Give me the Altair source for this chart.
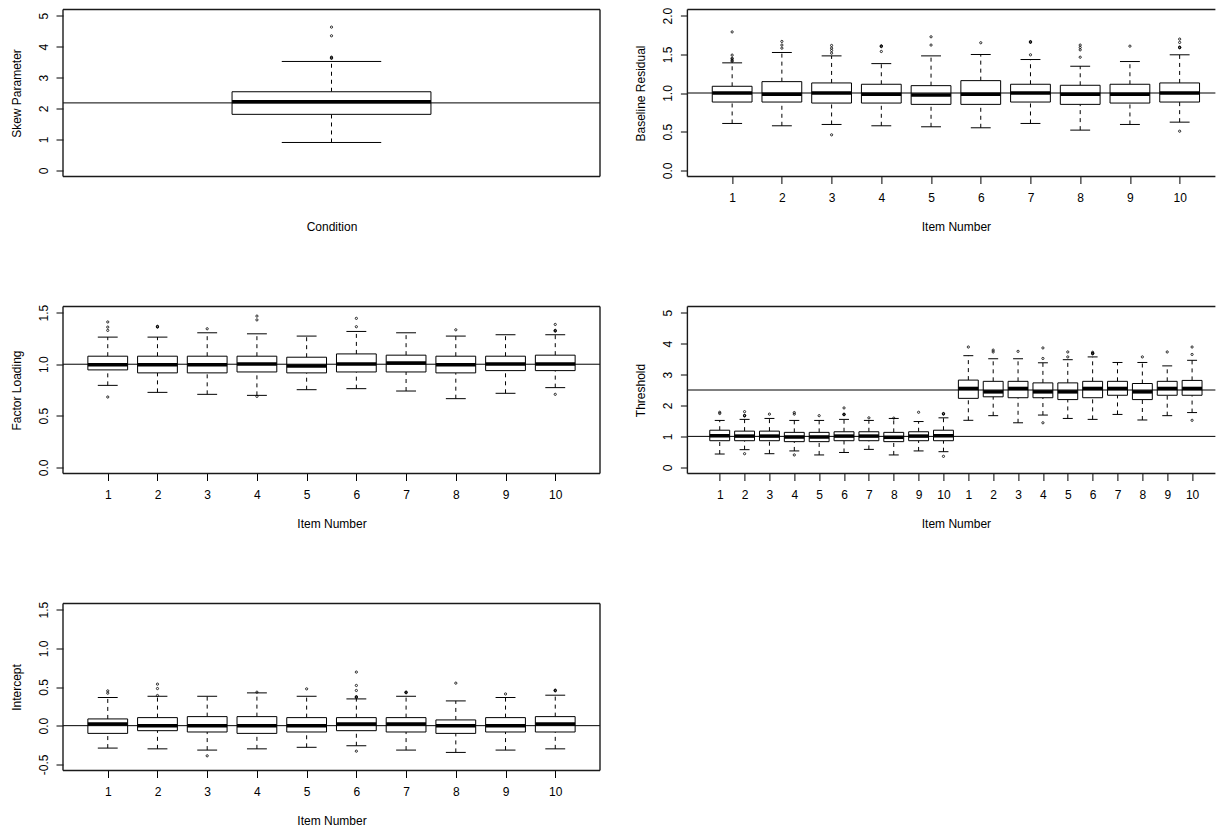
import altair as alt
import pandas as pd

FONT = "Liberation Sans"

# ---------------- data ----------------
# Panel 1: Skew Parameter (one box)
skew_pos = [1]
skew_lo = [0.90]
skew_q1 = [1.81]
skew_med = [2.22]
skew_q3 = [2.54]
skew_hi = [3.52]
skew_out = [[3.62, 3.64, 3.66, 4.35, 4.63]]
skew_ref = [2.18]

# Panel 2: Baseline Residual
items = list(range(1, 11))
base_lo = [0.606, 0.576, 0.593, 0.576, 0.563, 0.550, 0.606, 0.520, 0.593, 0.623]
base_q1 = [0.883, 0.883, 0.870, 0.870, 0.853, 0.853, 0.883, 0.853, 0.870, 0.883]
base_med = [1.000, 0.983, 1.000, 0.983, 0.974, 0.983, 1.000, 0.983, 0.983, 1.000]
base_q3 = [1.087, 1.147, 1.130, 1.113, 1.095, 1.160, 1.113, 1.100, 1.113, 1.130]
base_hi = [1.390, 1.524, 1.480, 1.380, 1.480, 1.498, 1.433, 1.346, 1.407, 1.494]
base_out = [
    [1.41, 1.42, 1.44, 1.45, 1.49, 1.79],
    [1.58, 1.62, 1.667],
    [0.459, 1.515, 1.55, 1.58, 1.615],
    [1.537, 1.60, 1.606, 1.61],
    [1.62, 1.727],
    [1.65],
    [1.494, 1.655, 1.66, 1.665],
    [1.463, 1.558, 1.589, 1.62],
    [1.606],
    [0.506, 1.585, 1.589, 1.594, 1.654, 1.697],
]
base_ref = [1.0]

# Panel 3: Factor Loading
load_lo = [0.795, 0.727, 0.708, 0.698, 0.753, 0.763, 0.740, 0.666, 0.718, 0.773]
load_q1 = [0.945, 0.916, 0.916, 0.925, 0.916, 0.925, 0.925, 0.916, 0.938, 0.938]
load_med = [0.994, 0.994, 0.994, 1.003, 0.984, 1.003, 1.013, 0.994, 1.003, 1.003]
load_q3 = [1.078, 1.078, 1.078, 1.078, 1.068, 1.100, 1.088, 1.078, 1.078, 1.088]
load_hi = [1.263, 1.263, 1.305, 1.295, 1.273, 1.318, 1.305, 1.273, 1.286, 1.286]
load_out = [
    [0.682, 1.328, 1.36, 1.41],
    [1.36, 1.364, 1.368],
    [1.344],
    [0.688, 1.43, 1.467],
    [],
    [1.364, 1.445],
    [],
    [1.334],
    [],
    [0.708, 1.321, 1.325, 1.329, 1.386],
]
load_ref = [1.0]

# Panel 4: Threshold (20 boxes, labelled 1..10 twice)
thr_pos = list(range(1, 21))
thr_labels = [1, 2, 3, 4, 5, 6, 7, 8, 9, 10, 1, 2, 3, 4, 5, 6, 7, 8, 9, 10]
thr_lo = [0.43, 0.57, 0.44, 0.53, 0.40, 0.48, 0.58, 0.40, 0.53, 0.505,
          1.52, 1.67, 1.44, 1.69, 1.58, 1.55, 1.71, 1.53, 1.67, 1.77]
thr_q1 = [0.86, 0.86, 0.86, 0.83, 0.83, 0.86, 0.86, 0.83, 0.86, 0.86,
          2.23, 2.28, 2.25, 2.25, 2.19, 2.25, 2.33, 2.19, 2.33, 2.33]
thr_med = [1.02, 1.01, 1.01, 0.98, 0.98, 1.01, 1.01, 0.97, 1.01, 1.02,
           2.55, 2.44, 2.55, 2.44, 2.44, 2.55, 2.55, 2.44, 2.55, 2.55]
thr_q3 = [1.20, 1.17, 1.17, 1.13, 1.13, 1.15, 1.15, 1.13, 1.15, 1.20,
          2.82, 2.78, 2.78, 2.73, 2.73, 2.78, 2.78, 2.71, 2.78, 2.81]
thr_hi = [1.516, 1.55, 1.58, 1.516, 1.516, 1.55, 1.516, 1.58, 1.48, 1.60,
          3.61, 3.51, 3.51, 3.38, 3.48, 3.57, 3.39, 3.39, 3.28, 3.46]
thr_out = [
    [1.74, 1.78], [0.44, 1.66, 1.67, 1.68, 1.80], [1.72], [0.40, 1.72, 1.77], [1.67],
    [1.70, 1.71, 1.72, 1.92], [1.60], [1.59], [1.78], [0.355, 1.72, 1.73, 1.74],
    [3.89], [3.73, 3.79], [3.75], [1.44, 3.52, 3.86], [3.57, 3.73],
    [3.67, 3.68, 3.69, 3.72], [], [3.57], [3.73], [1.52, 3.65, 3.89],
]
thr_ref = [1.0, 2.5]

# Panel 5: Intercept
int_lo = [-0.290, -0.300, -0.316, -0.300, -0.280, -0.260, -0.316, -0.346, -0.316, -0.300]
int_q1 = [-0.100, -0.065, -0.082, -0.100, -0.082, -0.065, -0.082, -0.100, -0.082, -0.082]
int_med = [0.022, 0.000, 0.000, 0.000, 0.000, 0.022, 0.022, 0.000, 0.000, 0.022]
int_q3 = [0.087, 0.104, 0.117, 0.117, 0.104, 0.104, 0.104, 0.074, 0.104, 0.117]
int_hi = [0.364, 0.380, 0.380, 0.424, 0.380, 0.346, 0.380, 0.320, 0.364, 0.394]
int_out = [
    [0.42, 0.45],
    [0.39, 0.48, 0.537],
    [-0.39],
    [0.433],
    [0.476],
    [-0.33, 0.365, 0.37, 0.375, 0.455, 0.52, 0.693],
    [0.425, 0.43, 0.435],
    [0.55],
    [0.41],
    [0.45, 0.455, 0.46],
]
int_ref = [0.0]

# ---------------- layout constants ----------------
W_LEFT = 537
W_RIGHT = 528
H = 167
FS = 12
FRAME = "#1a1a1a"
FRAME_W = 1.4


def y_axis(title, values, fmt, h):
    return alt.Axis(
        values=values,
        labelExpr=f"replace(format(datum.value, '{fmt}'), '\u2212', '-')",
        tickSize=7, tickColor="black", tickWidth=1, domain=False, grid=False,
        labelAngle=270, labelAlign="center", labelBaseline="alphabetic",
        labelPadding=9, labelFont=FONT, labelFontSize=FS, labelColor="black",
        labelOverlap=False, labelFlush=False,
        title=title, titleFont=FONT, titleFontSize=FS, titleFontWeight="normal",
        titleColor="black", titleAngle=270, titleBaseline="alphabetic",
        titleAlign="center", titleX=-43, titleY=h / 2,
    )


def x_axis(title, values, labels):
    if values:
        lab = "[" + ",".join(f"'{v}'" for v in labels) + "]"
        return alt.Axis(
            values=values,
            labelExpr=f"{lab}[round(datum.value) - 1]",
            tickSize=7, tickColor="black", tickWidth=1, domain=False, grid=False,
            labelAngle=0, labelAlign="center", labelBaseline="alphabetic",
            labelPadding=18, labelFont=FONT, labelFontSize=FS, labelColor="black",
            labelOverlap=False, labelFlush=False,
            title=title, titleFont=FONT, titleFontSize=FS, titleFontWeight="normal",
            titleColor="black", titleBaseline="alphabetic", titleAlign="center",
            titleX=268.5, titleY=54,
        )
    return alt.Axis(
        values=[], ticks=False, labels=False, domain=False, grid=False,
        title=title, titleFont=FONT, titleFontSize=FS, titleFontWeight="normal",
        titleColor="black", titleBaseline="alphabetic", titleAlign="center",
        titleX=268.5, titleY=54,
    )


def panel(pos, lo, q1, med, q3, hi, outs, refs, half, xdom, ydom, yvals, yfmt,
          ytitle, xtitle, xlabels, width, open_right=False):
    df = pd.DataFrame({"pos": pos, "lo": lo, "q1": q1, "med": med, "q3": q3, "hi": hi})
    df["bl"] = df["pos"] - half
    df["br"] = df["pos"] + half
    df["cl"] = df["pos"] - half / 2
    df["cr"] = df["pos"] + half / 2
    orows = [{"pos": p, "v": v} for p, vs in zip(pos, outs) for v in vs]
    odf = pd.DataFrame(orows, columns=["pos", "v"])
    rdf = pd.DataFrame({"v": refs})

    xs = alt.Scale(domain=xdom, nice=False, zero=False)
    ys = alt.Scale(domain=ydom, nice=False, zero=False)
    xa = x_axis(xtitle, pos if xlabels else [], xlabels)
    ya = y_axis(ytitle, yvals, yfmt, H)

    def X(f):
        return alt.X(f"{f}:Q", scale=xs, axis=xa)

    def Y(f):
        return alt.Y(f"{f}:Q", scale=ys, axis=ya)

    base = alt.Chart(df)
    whisk_up = base.mark_rule(color="black", strokeWidth=1, strokeDash=[4, 4]).encode(
        x=X("pos"), y=Y("q3"), y2="hi")
    whisk_dn = base.mark_rule(color="black", strokeWidth=1, strokeDash=[4, 4]).encode(
        x=X("pos"), y=Y("lo"), y2="q1")
    cap_up = base.mark_rule(color="black", strokeWidth=1).encode(
        x=X("cl"), x2="cr", y=Y("hi"))
    cap_dn = base.mark_rule(color="black", strokeWidth=1).encode(
        x=X("cl"), x2="cr", y=Y("lo"))
    box = base.mark_rect(fill="white", stroke="black", strokeWidth=1).encode(
        x=X("bl"), x2="br", y=Y("q1"), y2="q3")
    median = base.mark_rule(color="black", strokeWidth=3.5).encode(
        x=X("bl"), x2="br", y=Y("med"))
    layers = [whisk_up, whisk_dn, cap_up, cap_dn, box, median]
    if len(odf):
        pts = alt.Chart(odf).mark_point(shape="circle", filled=False, size=5,
                                        strokeWidth=0.8, color="black", opacity=1).encode(
            x=X("pos"), y=Y("v"))
        layers.append(pts)
    ref = alt.Chart(rdf).mark_rule(color="black", strokeWidth=1).encode(y=Y("v"))
    layers.append(ref)
    # plot frame (the right panels are cropped at the right edge in the reference)
    fr = alt.Chart(rdf.head(1))
    layers.append(fr.mark_rule(color=FRAME, strokeWidth=FRAME_W).encode(y=alt.value(0)))
    layers.append(fr.mark_rule(color=FRAME, strokeWidth=FRAME_W).encode(y=alt.value(H)))
    layers.append(fr.mark_rule(color=FRAME, strokeWidth=FRAME_W).encode(x=alt.value(0)))
    if not open_right:
        layers.append(fr.mark_rule(color=FRAME, strokeWidth=FRAME_W).encode(x=alt.value(width)))
    return alt.layer(*layers).properties(
        width=width, height=H, view=alt.ViewBackground(strokeOpacity=0))


px10 = W_LEFT / 10.8
px20 = W_LEFT / 21.6

p1 = panel(skew_pos, skew_lo, skew_q1, skew_med, skew_q3, skew_hi, skew_out, skew_ref,
           0.2, [0.46, 1.54], [-0.2, 5.2], [0, 1, 2, 3, 4, 5], "d",
           "Skew Parameter", "Condition", None, W_LEFT)
p2 = panel(items, base_lo, base_q1, base_med, base_q3, base_hi, base_out, base_ref,
           0.4, [0.1, 0.1 + W_RIGHT / px10], [-0.08, 2.08], [0, 0.5, 1.0, 1.5, 2.0], ".1f",
           "Baseline Residual", "Item Number", items, W_RIGHT, open_right=True)
p3 = panel(items, load_lo, load_q1, load_med, load_q3, load_hi, load_out, load_ref,
           0.4, [0.1, 10.9], [-0.06, 1.56], [0, 0.5, 1.0, 1.5], ".1f",
           "Factor Loading", "Item Number", items, W_LEFT)
p4 = panel(thr_pos, thr_lo, thr_q1, thr_med, thr_q3, thr_hi, thr_out, thr_ref,
           0.4, [-0.3, -0.3 + W_RIGHT / px20], [-0.2, 5.2], [0, 1, 2, 3, 4, 5], "d",
           "Threshold", "Item Number", thr_labels, W_RIGHT, open_right=True)
p5 = panel(items, int_lo, int_q1, int_med, int_q3, int_hi, int_out, int_ref,
           0.4, [0.1, 10.9], [-0.58, 1.58], [-0.5, 0, 0.5, 1.0, 1.5], ".1f",
           "Intercept", "Item Number", items, W_LEFT)

chart = alt.concat(
    p1, p2, p3, p4, p5, columns=2, bounds="flush", align="each",
    spacing=alt.RowColnumber(row=130, column=87.4),
).properties(
    padding={"left": 10, "top": 6.5, "right": 0, "bottom": 0},
    background="white",
).configure_view(
    strokeOpacity=0
).configure(font=FONT)

chart.save("out.html", embed_options={"renderer": "svg", "actions": False})
